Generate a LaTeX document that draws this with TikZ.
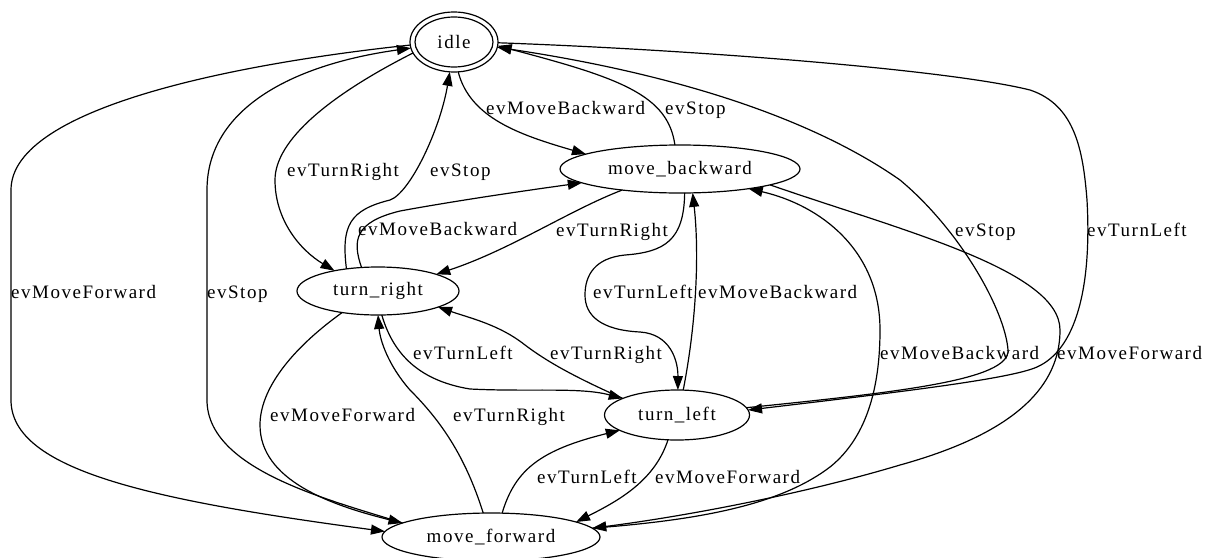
\documentclass[tikz,border=0pt]{standalone}
\usepackage{fontspec}
\setmainfont{Liberation Serif}[LetterSpace=8]
\usetikzlibrary{shapes.geometric,arrows.meta}
\begin{document}
\begin{tikzpicture}[x=1pt,y=-1pt,
  state/.style={ellipse, draw, line width=1.2pt, inner sep=0pt, outer sep=0pt,
                font=\fontsize{19}{22}\selectfont},
  edge/.style={line width=1.2pt, -{Triangle[length=14pt,width=10pt]}},
  lbl/.style={anchor=base west, inner sep=0pt, font=\fontsize{19}{22}\selectfont}]
\useasboundingbox (0,0) rectangle (1214,557);
\fill[white] (0,0) rectangle (1214,557);
\clip (0,0) rectangle (1214,557);

% states
\node[state, minimum width=88pt, minimum height=60pt] (idle) at (454,42) {idle};
\draw[line width=1.2pt] (idle.center) ellipse [x radius=39pt, y radius=25pt];
\node[state, minimum width=240pt, minimum height=48pt] (mb) at (680,169) {move\_backward};
\node[state, minimum width=162pt, minimum height=48pt] (tr) at (378,291) {turn\_right};
\node[state, minimum width=145pt, minimum height=50pt] (tl) at (677,415) {turn\_left};
\node[state, minimum width=218pt, minimum height=48pt] (mf) at (491,537) {move\_forward};

% transitions
\draw[edge] (idle.-82) .. controls (470,118) and (520,135) .. (mb.171);
\draw[edge] (mb.102) .. controls (668,95) and (620,78) .. (idle.-5);
\draw[edge] (idle.195) .. controls (330,95) and (275,140) .. (275,180)
            .. controls (275,220) and (300,250) .. (tr.155);
\draw[edge] (tr.145) .. controls (341,225) and (350,210) .. (390,200)
            .. controls (410,193) and (440,130) .. (idle.262);
\draw[edge] (tr.125) .. controls (352,240) and (355,222) .. (400,211)
            .. controls (460,200) and (530,190) .. (mb.188);
\draw[edge] (mb.200) .. controls (570,210) and (510,250) .. (tr.16);
\draw[edge] (mb.-79) .. controls (684,240) and (665,252) .. (625,255)
            .. controls (595,258) and (585,275) .. (585,295)
            .. controls (585,315) and (600,330) .. (640,332)
            .. controls (670,334) and (678,360) .. (tl.88);
\draw[edge] (tl.76) .. controls (695,330) and (700,260) .. (mb.-62);
\draw[edge] (idle.184) .. controls (250,62) and (11,105) .. (11,190) -- (11,400)
            .. controls (11,470) and (150,500) .. (mf.177);
\draw[edge] (mf.171) .. controls (330,500) and (207,470) .. (207,400) -- (207,190)
            .. controls (207,110) and (290,65) .. (idle.188);
\draw[edge] (idle.-1) .. controls (700,50) and (950,70) .. (1030,90)
            .. controls (1075,105) and (1083,150) .. (1087,200)
            .. controls (1092,290) and (1075,350) .. (1037,367)
            .. controls (1010,379) and (900,392) .. (tl.4);
\draw[edge] (tl.6) .. controls (900,392) and (1010,380) .. (1008,350)
            .. controls (1005,310) and (960,230) .. (900,180)
            .. controls (800,110) and (650,70) .. (idle.-7);
\draw[edge] (mf.5) .. controls (700,520) and (780,505) .. (830,467)
            .. controls (870,435) and (880,380) .. (880,330)
            .. controls (880,250) and (820,205) .. (mb.-16);
\draw[edge] (mb.-10) .. controls (900,230) and (1060,270) .. (1060,330)
            .. controls (1060,400) and (990,440) .. (900,465)
            .. controls (800,495) and (680,517) .. (mf.5);
\draw[edge] (tr.-81) .. controls (392,350) and (415,380) .. (470,389)
            .. controls (530,392) and (580,387) .. (tl.163);
\draw[edge] (tl.163) .. controls (570,375) and (545,360) .. (525,345)
            .. controls (500,325) and (470,318) .. (tr.-15);
\draw[edge] (tr.211) .. controls (290,350) and (260,390) .. (260,425)
            .. controls (260,480) and (330,505) .. (mf.171);
\draw[edge] (mf.108) .. controls (465,455) and (440,420) .. (410,390)
            .. controls (388,365) and (380,340) .. (tr.-90);
\draw[edge] (mf.65) .. controls (515,470) and (540,450) .. (tl.195);
\draw[edge] (tl.250) .. controls (655,480) and (620,500) .. (mf.10);

% transition labels
\node[lbl] (l1) at (486,114) {evMoveBackward};
\node[lbl] (l2) at (665,114) {evStop};
\node[lbl] (l3) at (287,176) {evTurnRight};
\node[lbl] (l4) at (430,176) {evStop};
\node[lbl] (l5) at (358,235) {evMoveBackward};
\node[lbl] (l6) at (556,236) {evTurnRight};
\node[lbl] (l7) at (593,298) {evTurnLeft};
\node[lbl] (l8) at (698,298) {evMoveBackward};
\node[lbl] (l9) at (11,298) {evMoveForward};
\node[lbl] (l10) at (207,298) {evStop};
\node[lbl] (l11) at (1087,236) {evTurnLeft};
\node[lbl] (l12) at (955,236) {evStop};
\node[lbl] (l13) at (880,359) {evMoveBackward};
\node[lbl] (l14) at (1057,359) {evMoveForward};
\node[lbl] (l15) at (413,359) {evTurnLeft};
\node[lbl] (l16) at (550,359) {evTurnRight};
\node[lbl] (l17) at (270,421) {evMoveForward};
\node[lbl] (l18) at (453,421) {evTurnRight};
\node[lbl] (l19) at (537,483) {evTurnLeft};
\node[lbl] (l20) at (655,483) {evMoveForward};
\end{tikzpicture}
\end{document}
